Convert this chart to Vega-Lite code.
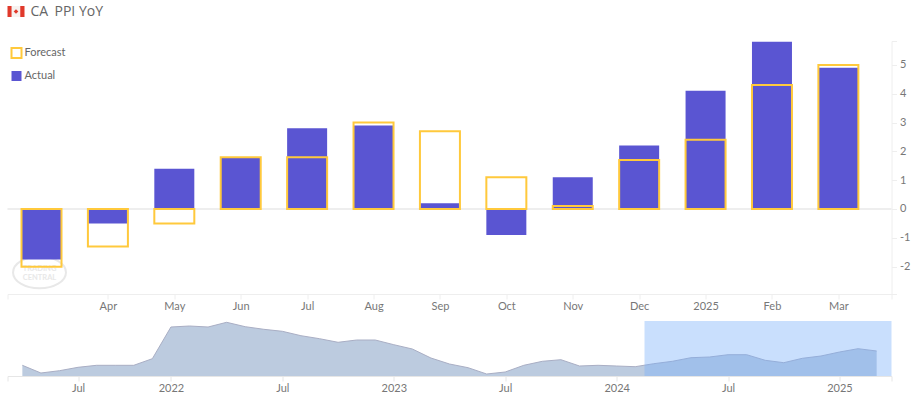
{
"$schema":"https://vega.github.io/schema/vega-lite/v6.json",
"padding":{"left":6.5,"top":4,"right":0,"bottom":0},
"background":"#ffffff",
"autosize":{"type":"pad"},
"spacing":9,
"config":{"view":{"stroke":null},"font":"Lato","axis":{"labelOverlap":false},"axisY":{"labelOverlap":false},"axisQuantitative":{"labelOverlap":false}},
"vconcat":[
{"width":884,"height":20,
 "layer":[
  {"data":{"values":[{"part":"a","from":0,"to":1,"top":0,"bottom":11},{"part":"b","from":1,"to":3,"top":0,"bottom":11},{"part":"c","from":3,"to":4,"top":0,"bottom":11}]},
   "mark":{"type":"rect"},"encoding":{"x":{"field":"from","type":"quantitative","scale":{"domain":[0,208],"nice":false,"zero":false},"axis":null},"x2":{"field":"to"},
    "y":{"field":"top","type":"quantitative","scale":{"domain":[20,0],"nice":false,"zero":false},"axis":null},"y2":{"field":"bottom"},
    "color":{"field":"part","type":"nominal","scale":{"domain":["a","b","c"],"range":["#e0392b","#f6f2f0","#e0392b"]},"legend":null}}},
  {"data":{"values":[{"cx":2,"cy":5.5}]},"mark":{"type":"point","shape":"diamond","filled":true,"size":22,"color":"#e0392b","opacity":1},"encoding":{"x":{"field":"cx","type":"quantitative","axis":null},"y":{"field":"cy","type":"quantitative","axis":null}}},
  {"data":{"values":[{"cx":5.4,"cy":5.5,"t":"CA"},{"cx":11.06,"cy":5.5,"t":"PPI YoY"}]},"mark":{"type":"text","align":"left","baseline":"middle","fontSize":14,"font":"Open Sans","color":"#666666"},"encoding":{"x":{"field":"cx","type":"quantitative","axis":null},"y":{"field":"cy","type":"quantitative","axis":null},"text":{"field":"t"}}}
 ]},
{"width":884,"height":253,
 "layer":[
  {"data":{"values":[{"y0":0}]},"mark":{"type":"rule","color":"#eeeeee","strokeWidth":2},"encoding":{"y":{"field":"y0","type":"quantitative",
     "axis":{"title":null,"orient":"right","grid":false,"values":[-2.95,-2,-1,0,1,2,3,4,5,5.83],"domainColor":"#eeeeee","tickColor":"#eeeeee","tickSize":5,"labelColor":"#777777","labelFontSize":11,"labelPadding":3,"labelOverlap":false,"labelExpr":"datum.value === floor(datum.value) ? (datum.value) : ''"}}}},
  {"data":{"values":[{"i":-0.03,"v":-2.2}]},"mark":{"type":"point","shape":"M-1,0A1,0.6,0,1,1,1,0A1,0.6,0,1,1,-1,0Z","size":2800,"filled":false,"stroke":"#e8e8e8","strokeWidth":2,"opacity":1},"encoding":{"x":{"field":"i","type":"quantitative"},"y":{"field":"v","type":"quantitative",
     "axis":{"title":null,"orient":"right","grid":false,"values":[-2.95,-2,-1,0,1,2,3,4,5,5.83],"domainColor":"#eeeeee","tickColor":"#eeeeee","tickSize":5,"labelColor":"#777777","labelFontSize":11,"labelPadding":3,"labelOverlap":false,"labelExpr":"datum.value === floor(datum.value) ? (datum.value) : ''"}}}},
  {"data":{"values":[{"i":-0.03,"v":-2.08,"t":"TRADING"},{"i":-0.03,"v":-2.4,"t":"CENTRAL"}]},"mark":{"type":"text","fontSize":7.5,"fontWeight":"bold","color":"#e8e8e8"},"encoding":{"x":{"field":"i","type":"quantitative"},"y":{"field":"v","type":"quantitative",
     "axis":{"title":null,"orient":"right","grid":false,"values":[-2.95,-2,-1,0,1,2,3,4,5,5.83],"domainColor":"#eeeeee","tickColor":"#eeeeee","tickSize":5,"labelColor":"#777777","labelFontSize":11,"labelPadding":3,"labelOverlap":false,"labelExpr":"datum.value === floor(datum.value) ? (datum.value) : ''"}},"text":{"field":"t"}}},
  {"data":{"values":[
   {"i":0,"month":"2024-03","series":"Actual","value":-1.75},{"i":0,"month":"2024-03","series":"Forecast","value":-2.0},
   {"i":1,"month":"2024-04","series":"Actual","value":-0.5},{"i":1,"month":"2024-04","series":"Forecast","value":-1.3},
   {"i":2,"month":"2024-05","series":"Actual","value":1.4},{"i":2,"month":"2024-05","series":"Forecast","value":-0.5},
   {"i":3,"month":"2024-06","series":"Actual","value":1.8},{"i":3,"month":"2024-06","series":"Forecast","value":1.8},
   {"i":4,"month":"2024-07","series":"Actual","value":2.8},{"i":4,"month":"2024-07","series":"Forecast","value":1.8},
   {"i":5,"month":"2024-08","series":"Actual","value":2.9},{"i":5,"month":"2024-08","series":"Forecast","value":3.0},
   {"i":6,"month":"2024-09","series":"Actual","value":0.2},{"i":6,"month":"2024-09","series":"Forecast","value":2.7},
   {"i":7,"month":"2024-10","series":"Actual","value":-0.9},{"i":7,"month":"2024-10","series":"Forecast","value":1.1},
   {"i":8,"month":"2024-11","series":"Actual","value":1.1},{"i":8,"month":"2024-11","series":"Forecast","value":0.1},
   {"i":9,"month":"2024-12","series":"Actual","value":2.2},{"i":9,"month":"2024-12","series":"Forecast","value":1.7},
   {"i":10,"month":"2025-01","series":"Actual","value":4.1},{"i":10,"month":"2025-01","series":"Forecast","value":2.4},
   {"i":11,"month":"2025-02","series":"Actual","value":5.8},{"i":11,"month":"2025-02","series":"Forecast","value":4.3},
   {"i":12,"month":"2025-03","series":"Actual","value":4.9},{"i":12,"month":"2025-03","series":"Forecast","value":5.0}
  ]},
  "mark":{"type":"bar","size":40,"orient":"vertical","strokeWidth":2},
  "encoding":{
   "x":{"field":"i","type":"quantitative","scale":{"domain":[-0.512,12.8],"nice":false,"zero":false,"padding":0},
     "axis":{"title":null,"grid":false,"values":[-0.512,1,2,3,4,5,6,7,8,9,10,11,12,12.8],"domainColor":"#eeeeee","tickColor":"#eeeeee","tickSize":5,"labelColor":"#777777","labelFontSize":11,"labelPadding":1,"labelFlush":false,"labelOverlap":false,
       "labelExpr":"['','Apr','May','Jun','Jul','Aug','Sep','Oct','Nov','Dec','2025','Feb','Mar'][datum.value] || ''"}},
   "y":{"field":"value","type":"quantitative","stack":null,"scale":{"domain":[-2.95,5.83],"nice":false,"zero":false},
     "axis":{"title":null,"orient":"right","grid":false,"values":[-2.95,-2,-1,0,1,2,3,4,5,5.83],"domainColor":"#eeeeee","tickColor":"#eeeeee","tickSize":5,"labelColor":"#777777","labelFontSize":11,"labelPadding":3,"labelOverlap":false,
       "labelExpr":"datum.value === floor(datum.value) ? (datum.value) : ''"}},
   "fill":{"field":"series","type":"nominal","scale":{"domain":["Forecast","Actual"],"range":["transparent","#5a55d2"]},
     "legend":{"title":null,"orient":"none","legendX":3,"legendY":41,"symbolType":"square","symbolSize":100,"symbolStrokeWidth":2,"rowPadding":5,"labelFontSize":11,"labelColor":"#666666","labelOffset":2}},
   "stroke":{"field":"series","type":"nominal","scale":{"domain":["Forecast","Actual"],"range":["#ffc93c","transparent"]},
     "legend":{"title":null,"orient":"none","legendX":3,"legendY":41,"symbolType":"square","symbolSize":100,"symbolStrokeWidth":2,"rowPadding":5,"labelFontSize":11,"labelColor":"#666666","labelOffset":2}}
  }}
 ]},
{"width":884,"height":55,
 "layer":[
  {"data":{"values":[
   {"n":0,"v":10.7},{"n":1,"v":3},{"n":2,"v":5.3},{"n":3,"v":8.7},{"n":4,"v":10.7},{"n":5,"v":10.7},{"n":6,"v":10.7},{"n":7,"v":17.3},{"n":8,"v":49},{"n":9,"v":50},
   {"n":10,"v":49},{"n":11,"v":53.7},{"n":12,"v":49.3},{"n":13,"v":46.7},{"n":14,"v":44.7},{"n":15,"v":40.3},{"n":16,"v":37.3},{"n":17,"v":33.7},{"n":18,"v":36},{"n":19,"v":36},
   {"n":20,"v":31.3},{"n":21,"v":27},{"n":22,"v":18},{"n":23,"v":12},{"n":24,"v":8.3},{"n":25,"v":2},{"n":26,"v":4},{"n":27,"v":10.7},{"n":28,"v":14.7},{"n":29,"v":16.3},
   {"n":30,"v":10},{"n":31,"v":10.7},{"n":32,"v":10},{"n":33,"v":9.3},{"n":34,"v":12.3},{"n":35,"v":14.7},{"n":36,"v":18.3},{"n":37,"v":19},{"n":38,"v":21.3},{"n":39,"v":21.3},
   {"n":40,"v":15.7},{"n":41,"v":13.3},{"n":42,"v":17.7},{"n":43,"v":20},{"n":44,"v":24},{"n":45,"v":27.3},{"n":46,"v":25}
  ]},
  "mark":{"type":"area","color":"#bccbdf","opacity":1,"line":{"color":"#a9aec4","strokeWidth":1}},
  "encoding":{
   "x":{"field":"n","type":"quantitative","scale":{"domain":[-0.8,46.8],"nice":false,"zero":false},
    "axis":{"title":null,"grid":false,"values":[-0.8,3,8,14,20,26,32,38,44,46.8],"domainColor":"#e6e6e6","tickColor":"#e6e6e6","tickSize":5,"labelColor":"#777777","labelFontSize":11,"labelPadding":1,"labelOverlap":false,"labelFlush":false,
     "labelExpr":"datum.value===3||datum.value===14||datum.value===26||datum.value===38?'Jul':datum.value===8?'2022':datum.value===20?'2023':datum.value===32?'2024':datum.value===44?'2025':''"}},
   "y":{"field":"v","type":"quantitative","scale":{"domain":[0,55],"nice":false},"axis":null}
  }},
  {"data":{"values":[{"a":33.5,"b":46.8}]},"mark":{"type":"rect","fill":"#78affa","fillOpacity":0.4},"encoding":{"x":{"field":"a","type":"quantitative"},"x2":{"field":"b"}}}
 ]}
]
}
